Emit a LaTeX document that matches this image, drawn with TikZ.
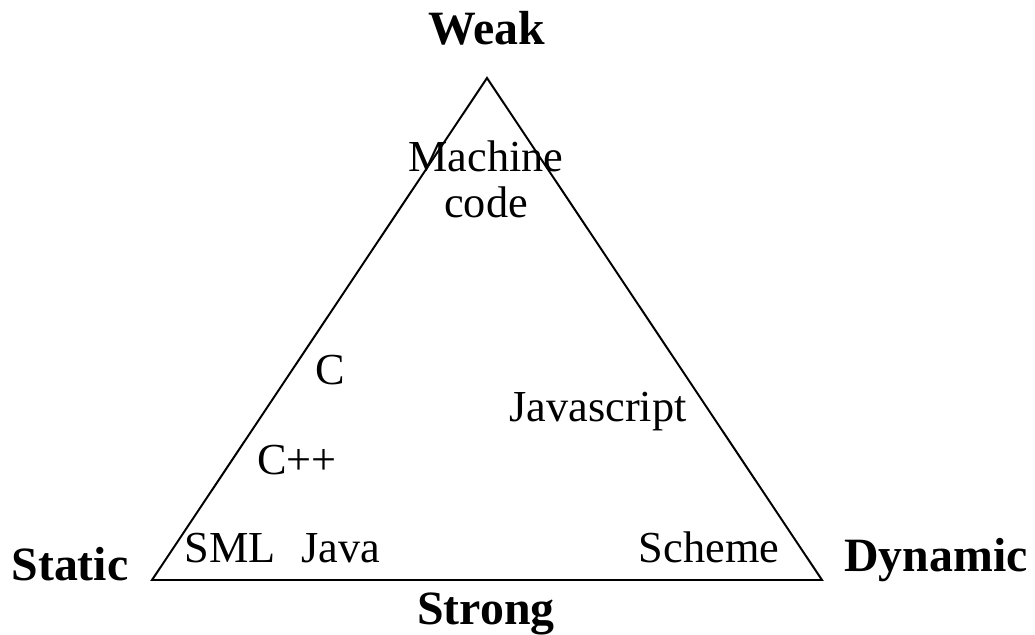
\documentclass[tikz,border=0pt]{standalone}
\usepackage{fontspec}
\setmainfont{Liberation Serif}
\usetikzlibrary{positioning}
\tikzset{
    % corner labels
    ecke/.style={
           font=\fontsize{34}{36}\selectfont\bfseries,
           anchor=base,
           inner sep=0pt},
    % language names
    sprache/.style={
           font=\fontsize{31.5}{32.5}\selectfont,
           anchor=base,
           inner sep=0pt,
           align=center},
    % triangle outline
    rand/.style={
           draw=black,
           line width=1.4pt,
           line join=miter}
}
\begin{document}
\begin{tikzpicture}[x=0.025cm, y=-0.025cm]
	\useasboundingbox (0,0) rectangle (1035,634);
	%
	% Ecken
	%
	\coordinate (oben) at (487,78);
	\coordinate (links) at (152,580);
	\coordinate (rechts) at (822,580);
	\draw[rand] (oben) -- (rechts) -- (links) -- cycle;
	%
	% Beschriftung
	%
	\node[ecke] (weak) at (487,44) {Weak};
	\node[ecke] (static) at (70,580) {Static};
	\node[ecke] (dynamic) at (936,571) {Dynamic};
	\node[ecke] (strong) at (486,624) {Strong};
	%
	% Sprachen
	%
	\node[sprache] (machine) at (486,217) {Machine\\code};
	\node[sprache] (c) at (330,384) {C};
	\node[sprache] (cpp) at (297,474) {C++};
	\node[sprache] (js) at (598,421) {Javascript};
	\node[sprache] (sml) at (230,562) {SML};
	\node[sprache] (java) at (341,562) {Java};
	\node[sprache] (scheme) at (709,562) {Scheme};
\end{tikzpicture}
\end{document}
